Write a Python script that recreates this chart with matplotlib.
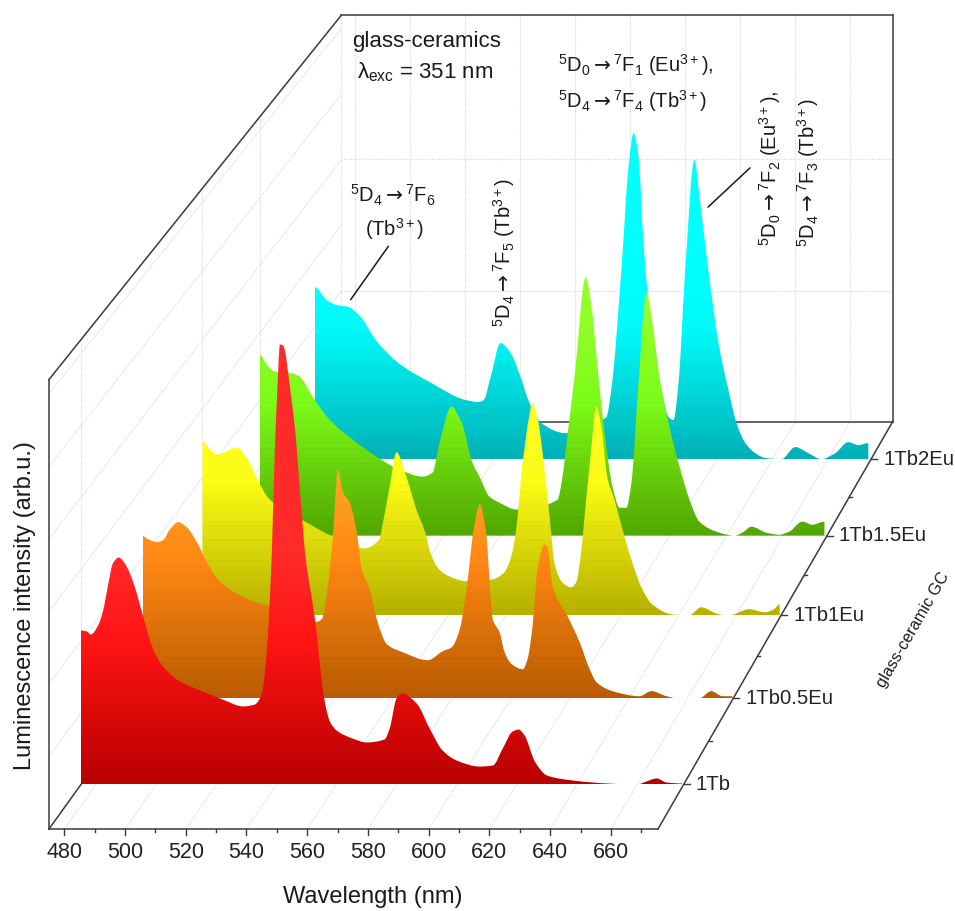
import numpy as np
import matplotlib
matplotlib.use("Agg")
import matplotlib.pyplot as plt
from matplotlib.colors import LinearSegmentedColormap
from matplotlib.patches import PathPatch
from matplotlib.path import Path

plt.rcParams['font.family'] = ['Liberation Sans', 'DejaVu Sans']
plt.rcParams['mathtext.fontset'] = 'custom'
plt.rcParams['mathtext.rm'] = 'Liberation Sans'
plt.rcParams['mathtext.it'] = 'Liberation Sans:italic'
plt.rcParams['mathtext.cal'] = 'DejaVu Sans'
plt.rcParams['mathtext.default'] = 'regular'

# spectra : wavelength (nm) / intensity (arb.u.)
wl_1tb = [475, 477, 478.3, 480.7, 482.3, 484, 485.6, 487.6, 489.6, 492.3, 495.6, 498.9, 502.3, 507.9, 514.6, 522.2,
          528.9, 532.8, 535.2, 536.8, 538.5, 539.5, 540.2, 541.2, 542.2, 545, 546.1, 548.5, 549.5, 552.8, 556.1, 557.8,
          560.1, 565.4, 570, 576, 577.7, 580, 581.7, 586.7, 591, 595.3, 600, 607.6, 612, 615.3, 618.6, 620.6, 622.6,
          626, 630, 638.6, 650, 660, 663, 666.5, 669.8, 675]
int_1tb = [1.073, 1.066, 1.045, 1.108, 1.206, 1.387, 1.54, 1.582, 1.54, 1.415, 1.178, 0.948, 0.822, 0.718, 0.655, 0.592,
           0.544, 0.557, 0.634, 0.927, 1.624, 2.34, 2.69, 3.066, 3.06, 2.69, 2.5, 1.875, 1.624, 1.157, 0.578, 0.439,
           0.376, 0.32, 0.293, 0.314, 0.39, 0.6, 0.634, 0.564, 0.39, 0.237, 0.167, 0.125, 0.132, 0.25, 0.369, 0.383, 0.341,
           0.16, 0.063, 0.028, 0.007, 0, 0.02, 0.042, 0.014, 0.007]

wl_05eu = [475, 476.7, 479.8, 481.8, 484.2, 486.9, 489.9, 493.3, 496.7, 500.4, 505.5, 512.3, 518.1, 533.4, 535.7, 537.8,
           539.5, 541.2, 542.9, 545.2, 547.6, 549.3, 552, 554.7, 557.8, 563.2, 571.7, 576.8, 579.9, 582.6, 585, 587.3,
           589.4, 591.4, 593.8, 596.1, 597.8, 600.2, 604, 605.6, 607.3, 609, 611.4, 612.4, 614.1, 619.2, 623.3, 626.7,
           629, 634.5, 643.6, 647.7, 652.8, 656.2, 664, 668, 671.8, 675.2]
int_05eu = [1.152, 1.131, 1.11, 1.124, 1.202, 1.252, 1.216, 1.11, 0.967, 0.846, 0.761, 0.69, 0.654, 0.54, 0.562, 0.797,
            1.152, 1.629, 1.465, 1.394, 1.181, 0.917, 0.775, 0.54, 0.384, 0.327, 0.27, 0.334, 0.363, 0.491, 0.797, 1.2,
            1.38, 1.2, 0.56, 0.469, 0.327, 0.242, 0.206, 0.277, 0.512, 0.917, 1.095, 1.074, 0.797, 0.583, 0.398, 0.206,
            0.114, 0.05, 0.014, 0.05, 0.014, 0, 0, 0.05, 0.014, 0.014]

wl_1eu = [475, 478.1, 480.2, 483.3, 486.8, 490.2, 494, 498.2, 511, 520, 531, 536.3, 537.3, 540, 542.2, 545.6, 549.1,
          552.6, 553.6, 557, 560.5, 566.4, 575.4, 579.6, 582, 583.7, 585.8, 588.2, 589.3, 591, 593.4, 595.8, 596.9,
          599.7, 602.8, 604.5, 606.2, 607.3, 609.7, 611.4, 613.2, 615.2, 617.7, 621.2, 623.9, 627.4, 630.8, 637.7, 643.6,
          647.8, 654, 657.5, 664.4, 670, 673, 675]
int_1eu = [1.263, 1.19, 1.168, 1.19, 1.219, 1.147, 0.987, 0.842, 0.675, 0.573, 0.486, 0.552, 0.646, 0.95, 1.183, 1.009, 0.769,
           0.573, 0.479, 0.334, 0.283, 0.247, 0.261, 0.312, 0.428, 0.624, 1.081, 1.444, 1.546, 1.444, 1.081, 0.602, 0.385,
           0.239, 0.203, 0.239, 0.457, 0.697, 1.205, 1.517, 1.372, 1.009, 0.842, 0.573, 0.385, 0.189, 0.08, 0.007, 0,
           0.058, 0.007, 0, 0.044, 0.022, 0.044, 0.08]

wl_15eu = [475, 477.5, 480.3, 485.6, 489.1, 493.7, 499.7, 507.9, 516.3, 524.5, 532.6, 536.1, 538.6, 542.8, 546.4, 550.2,
           552.7, 556.2, 559.8, 565.8, 580.3, 581.7, 583.9, 586.3, 590.2, 592.3, 594.4, 596.9, 599.7, 602.2, 604.6, 606.4,
           608.5, 611.7, 613.5, 616.3, 619.8, 623.4, 626.9, 630.4, 637.5, 642.8, 645.6, 648.8, 654, 658.7, 662.2, 666.8,
           670.3, 674.6]
int_15eu = [1.341, 1.267, 1.215, 1.207, 1.178, 1.03, 0.859, 0.711, 0.585, 0.489, 0.437, 0.467, 0.689, 0.956, 0.837, 0.541,
            0.437, 0.289, 0.244, 0.193, 0.267, 0.393, 0.763, 1.178, 1.911, 1.696, 1.252, 0.763, 0.363, 0.207, 0.207, 0.393,
            1.007, 1.8, 1.622, 1.178, 0.807, 0.511, 0.267, 0.104, 0.022, 0, 0.022, 0.067, 0.022, 0.007, 0.03, 0.104,
            0.081, 0.104]

wl_2eu = [475, 479.3, 482.9, 487.2, 491.6, 497, 505.2, 517.1, 529.4, 534, 535.9, 538.4, 542, 545.6, 549.2, 552, 556.7,
          565.4, 578.4, 580.1, 582, 585.6, 588.1, 589.9, 591.7, 593.5, 596.4, 600, 602.5, 604.3, 606.1, 608.6, 611.8,
          614, 616.9, 620.5, 624.1, 627, 630.2, 633.8, 637.4, 643.2, 648.2, 652.9, 657.6, 662.6, 667.3, 670.9, 674.5]
int_2eu = [1.299, 1.2, 1.163, 1.148, 1.073, 0.899, 0.725, 0.574, 0.446, 0.431, 0.446, 0.619, 0.876, 0.801, 0.619, 0.446, 0.272,
           0.196, 0.295, 0.317, 0.544, 1.45, 2.205, 2.462, 2.281, 1.631, 0.952, 0.521, 0.317, 0.295, 0.574, 1.45, 2.258,
           1.92, 1.42, 0.876, 0.521, 0.272, 0.121, 0.045, 0.008, 0, 0.091, 0.045, 0, 0.045, 0.128, 0.106, 0.121]

samples = ['1Tb', '1Tb0.5Eu', '1Tb1Eu', '1Tb1.5Eu', '1Tb2Eu']
depths = [0.1, 0.3, 0.5, 0.7, 0.9]
minor_depths = [0.2, 0.4, 0.6, 0.8]
spectra = [(wl_1tb, int_1tb), (wl_05eu, int_05eu), (wl_1eu, int_1eu), (wl_15eu, int_15eu), (wl_2eu, int_2eu)]

# base colour, colour at intensity ~1, colour at the top
shades = [
    [(185, 0, 0), (255, 20, 20), (255, 42, 42)],
    [(185, 92, 0), (255, 135, 20), (255, 167, 38)],
    [(183, 178, 0), (252, 252, 20), (255, 255, 45)],
    [(82, 168, 0), (125, 250, 25), (145, 255, 40)],
    [(0, 178, 184), (0, 250, 250), (0, 255, 255)],
]

wl_min, wl_max = 475, 675.5
i_max = 3.1
major_wl = list(range(480, 661, 20))
minor_wl = list(range(490, 671, 20))
back_grid = [1, 2]
side_grid = [0.5, 1, 1.5, 2, 2.5, 3]
side_depths = [0.1, 0.5, 0.7, 1]

# perspective of the box, in pixels of the figure
VX, VY = 3126, -3454
FRONT_X0, FRONT_X1, FRONT_Y = 49, 658, 830
PX_I = 145
K = 0.105


def project(wl, depth, intensity=0.0):
    wl, intensity = np.broadcast_arrays(np.asarray(wl, dtype=float), np.asarray(intensity, dtype=float))
    s = 1 / (1 + K * depth)
    x_front = FRONT_X0 + (wl - wl_min) / (wl_max - wl_min) * (FRONT_X1 - FRONT_X0)
    y_front = FRONT_Y - intensity * PX_I
    return VX + (x_front - VX) * s, VY + (y_front - VY) * s


def outline(xs, ys, x_end, x_start, y_base):
    # closed outline of a spectrum, bezier through the read points (flat at the peaks and valleys)
    h = np.diff(xs)
    slope = np.diff(ys) / h
    m = np.zeros(len(xs))
    for i in range(1, len(xs) - 1):
        if slope[i - 1] * slope[i] > 0:
            w1 = 2 * h[i] + h[i - 1]
            w2 = h[i] + 2 * h[i - 1]
            m[i] = (w1 + w2) / (w1 / slope[i - 1] + w2 / slope[i])
    verts = [(x_start, y_base), (xs[0], ys[0])]
    codes = [Path.MOVETO, Path.LINETO]
    for i in range(len(xs) - 1):
        verts += [(xs[i] + h[i] / 3, ys[i] + m[i] * h[i] / 3),
                  (xs[i + 1] - h[i] / 3, ys[i + 1] - m[i + 1] * h[i] / 3),
                  (xs[i + 1], ys[i + 1])]
        codes += [Path.CURVE4] * 3
    verts += [(x_end, y_base), (x_start, y_base)]
    codes += [Path.LINETO, Path.CLOSEPOLY]
    return Path(verts, codes)


fig = plt.figure(figsize=(9.55, 9.12), dpi=100)
ax = fig.add_axes([0, 0, 1, 1])
ax.axis('off')


def segment(p0, p1, **kw):
    ax.plot([p0[0], p1[0]], [p0[1], p1[1]], solid_capstyle='projecting', **kw)


# grid
grid_style = dict(color='#d6d6d6', lw=0.8, ls=(0, (1, 1.2)), zorder=1)
for wl in major_wl:
    segment(project(wl, 0), project(wl, 1), **grid_style)
    segment(project(wl, 1), project(wl, 1, i_max), **grid_style)
for d in side_depths:
    segment(project(wl_min, d), project(wl_min, d, i_max), **grid_style)
for v in side_grid:
    segment(project(wl_min, 0, v), project(wl_min, 1, v), **grid_style)
for v in back_grid:
    segment(project(wl_min, 1, v), project(wl_max, 1, v), **grid_style)

# box
box_style = dict(color='#3a3a3a', lw=1.1, zorder=2)
segment(project(wl_min, 0), project(wl_min, 0, i_max), **box_style)
segment(project(wl_min, 0), project(wl_max, 0), **box_style)
segment(project(wl_min, 0), project(wl_min, 1), **box_style)
segment(project(wl_max, 0), project(wl_max, 1), **box_style)
segment(project(wl_min, 1), project(wl_max, 1), **box_style)
segment(project(wl_max, 1), project(wl_max, 1, i_max), **box_style)
segment(project(wl_min, 1, i_max), project(wl_max, 1, i_max), **box_style)
segment(project(wl_min, 0, i_max), project(wl_min, 1, i_max), **box_style)

# spectra, from the back to the front
for n in range(len(samples) - 1, -1, -1):
    wl, inten = spectra[n]
    d = depths[n]
    xs, ys = project(wl, d, inten)
    xb, yb = project([wl[-1], wl[0]], d)
    poly = PathPatch(outline(xs, ys, xb[0], xb[1], yb[0]), facecolor='none', edgecolor='none',
                     transform=ax.transData)
    ax.add_patch(poly)
    cols = [np.array(c) / 255 for c in shades[n]]
    cmap = LinearSegmentedColormap.from_list('s', [(0, cols[0]), (0.3, cols[1]), (0.5, cols[2]), (1, cols[2])], N=64)
    _, y_top = project(wl[0], d, 3.2)
    grad = np.linspace(0, 1, 256).reshape(-1, 1)
    im = ax.imshow(grad, cmap=cmap, origin='lower', aspect='auto', interpolation='nearest',
                   extent=(xs.min(), xs.max() + 1, yb[0], y_top), zorder=3 + (5 - n))
    im.set_clip_path(poly)

ax.set_xlim(0, 955)
ax.set_ylim(912, 0)

# wavelength ticks
tick_color = '#3a3a3a'
for wl in major_wl:
    x, y = project(wl, 0)
    ax.plot([x, x], [y, y + 6], color=tick_color, lw=1, zorder=2)
    ax.text(x, 853, str(wl), ha='center', va='center', fontsize=15.5, color='#222222')
for wl in minor_wl:
    x, y = project(wl, 0)
    ax.plot([x, x], [y, y + 3], color=tick_color, lw=1, zorder=2)

# sample ticks
for name, d in zip(samples, depths):
    x, y = project(wl_max, d)
    ax.plot([x, x + 6], [y, y], color=tick_color, lw=1, zorder=2)
    ax.text(x + 12, y - 1, name, ha='left', va='center', fontsize=14.6, color='#222222')
for d in minor_depths:
    x, y = project(wl_max, d)
    ax.plot([x, x + 3], [y, y], color=tick_color, lw=1, zorder=2)

label_style = dict(color='#1a1a1a', zorder=20)
ARROW = r'\mathcal{\rightarrow}'
ax.text(373, 897, 'Wavelength (nm)', ha='center', va='center', fontsize=17, **label_style)
ax.text(25, 606, 'Luminescence intensity (arb.u.)', rotation=90, ha='center', va='center', fontsize=17, **label_style)
ax.text(913, 630, 'glass-ceramic GC', rotation=60, ha='center', va='center', fontsize=11.8, **label_style)

ax.text(352, 42, 'glass-ceramics', ha='left', va='center', fontsize=16, **label_style)
ax.text(357, 72, r'$\lambda_{exc}$ = 351 nm', ha='left', va='center', fontsize=16, **label_style)
ax.text(558, 65, rf'$^{{5}}$D$_{{0}}{ARROW}^{{7}}$F$_{{1}}$ (Eu$^{{3+}}$),', ha='left', va='center', fontsize=14.5, **label_style)
ax.text(558, 101, rf'$^{{5}}$D$_{{4}}{ARROW}^{{7}}$F$_{{4}}$ (Tb$^{{3+}}$)', ha='left', va='center', fontsize=14.5, **label_style)
ax.text(350, 195, rf'$^{{5}}$D$_{{4}}{ARROW}^{{7}}$F$_{{6}}$', ha='left', va='center', fontsize=14.5, **label_style)
ax.text(395, 229, r'(Tb$^{3+}$)', ha='center', va='center', fontsize=14.5, **label_style)
ax.text(504, 252, rf'$^{{5}}$D$_{{4}}{ARROW}^{{7}}$F$_{{5}}$ (Tb$^{{3+}}$)', rotation=90, ha='center', va='center', fontsize=14.5, **label_style)
ax.text(770, 168, rf'$^{{5}}$D$_{{0}}{ARROW}^{{7}}$F$_{{2}}$ (Eu$^{{3+}}$),', rotation=90, ha='center', va='center', fontsize=14.5, **label_style)
ax.text(808, 172, rf'$^{{5}}$D$_{{4}}{ARROW}^{{7}}$F$_{{3}}$ (Tb$^{{3+}}$)', rotation=90, ha='center', va='center', fontsize=14.5, **label_style)

# leader lines of the two annotations
ax.annotate('', xy=(349, 303), xytext=(390, 245), arrowprops=dict(arrowstyle='-', color='#1a1a1a', lw=1.1), zorder=20)
ax.annotate('', xy=(706, 210), xytext=(752, 167), arrowprops=dict(arrowstyle='-', color='#1a1a1a', lw=1.1), zorder=20)

fig.savefig('out.png', dpi=100)
